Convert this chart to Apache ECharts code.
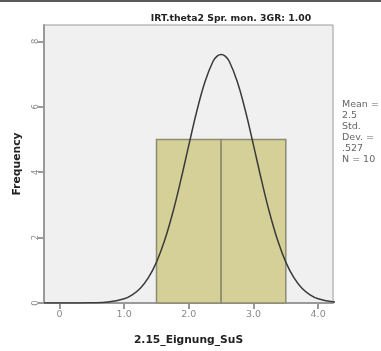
<!DOCTYPE html>
<html>
<head>
<meta charset="utf-8">
<script src="https://cdn.jsdelivr.net/npm/echarts@6/dist/echarts.min.js"></script>
<style>html,body{margin:0;padding:0;background:#fff;}#c{width:381px;height:351px;}</style>
</head>
<body>
<div id="c"></div>
<script>
// Histogram bins: [start, end, frequency]
var binStarts = [1.5, 2.5];
var binEnds = [2.5, 3.5];
var binFreq = [5, 5];
// Fitted normal curve points
var curveX = [-0.24, 0, 0.25, 0.5, 0.75, 1.0, 1.125, 1.25, 1.375, 1.5, 1.625, 1.75, 1.875, 2.0, 2.125, 2.25, 2.375, 2.4375, 2.5,
              2.5625, 2.625, 2.75, 2.875, 3.0, 3.125, 3.25, 3.375, 3.5, 3.625, 3.75, 3.875, 4.0, 4.25, 4.5, 4.75, 5.0, 5.24];
var curveY = [0, 0.0001, 0.0008, 0.006, 0.031, 0.132, 0.252, 0.454, 0.776, 1.251, 1.908, 2.75, 3.747, 4.827, 5.877, 6.765, 7.39, 7.55, 7.6,
              7.55, 7.39, 6.765, 5.877, 4.827, 3.747, 2.75, 1.908, 1.251, 0.776, 0.454, 0.252, 0.132, 0.031, 0.006, 0.0008, 0.0001, 0];
var xTicks = [0, 1, 2, 3, 4];
var xTickLabels = ['0', '1.0', '2.0', '3.0', '4.0'];
var yTicks = [0, 2, 4, 6, 8];
var statsLines = ['Mean =', '2.5', 'Std.', 'Dev. =', '.527', 'N = 10'];
var titleText = 'IRT.theta2 Spr. mon. 3GR: 1.00';
var xName = '2.15_Eignung_SuS';
var yName = 'Frequency';

var FONT = '"DejaVu Sans", Verdana, sans-serif';
var histData = binStarts.map(function (s, i) { return [s, binEnds[i], binFreq[i]]; });
var curveData = curveX.map(function (x, i) { return [x, curveY[i]]; });

var chart = echarts.init(document.getElementById('c'), null, {renderer: 'canvas'});
chart.setOption({
  animation: false,
  backgroundColor: '#fff',
  title: {
    text: titleText, left: 226, top: 9, textAlign: 'center',
    textStyle: {fontFamily: FONT, fontSize: 9.3, fontWeight: 'bold', color: '#222'}
  },
  graphic: [
    {type: 'rect', left: 0, top: 0, shape: {width: 381, height: 2}, style: {fill: '#5a5a5a'}, silent: true},
    {type: 'text', left: 342, top: 99, style: {
      text: statsLines.join('\n'), fill: '#666', font: '9.5px ' + FONT, lineHeight: 11
    }}
  ],
  grid: {left: 44, top: 25, right: 48, bottom: 47, show: true, backgroundColor: '#f0f0f0', borderColor: '#9a9a9a', borderWidth: 1},
  xAxis: {
    type: 'value', min: -0.24, max: 4.23,
    name: xName, nameLocation: 'middle', nameGap: 32,
    nameTextStyle: {fontFamily: FONT, fontSize: 10.7, fontWeight: 'bold', color: '#222'},
    axisLine: {show: true, onZero: false, lineStyle: {color: '#9a9a9a', width: 2}},
    axisTick: {show: true, length: 6, customValues: xTicks, lineStyle: {color: '#9a9a9a', width: 2}},
    axisLabel: {customValues: xTicks, margin: 7, fontFamily: FONT, fontSize: 9.5, color: '#8a8a8a',
      formatter: function (v) { var i = xTicks.indexOf(v); return i >= 0 ? xTickLabels[i] : ''; }},
    splitLine: {show: false}
  },
  yAxis: {
    type: 'value', min: 0, max: 8.5,
    name: yName, nameLocation: 'middle', nameGap: 19, nameRotate: 90,
    nameTextStyle: {fontFamily: FONT, fontSize: 10.8, fontWeight: 'bold', color: '#222'},
    axisLine: {show: true, onZero: false, lineStyle: {color: '#9a9a9a', width: 2}},
    axisTick: {show: true, length: 6, customValues: yTicks, lineStyle: {color: '#9a9a9a', width: 2}},
    axisLabel: {customValues: yTicks, rotate: 90, margin: 4, fontFamily: FONT, fontSize: 8.5, color: '#8a8a8a'},
    splitLine: {show: false}
  },
  series: [
    {
      type: 'custom',
      data: histData,
      encode: {x: [0, 1], y: 2},
      renderItem: function (params, api) {
        var p0 = api.coord([api.value(0), api.value(2)]);
        var p1 = api.coord([api.value(1), 0]);
        return {
          type: 'rect',
          shape: {x: p0[0], y: p0[1], width: p1[0] - p0[0], height: p1[1] - p0[1]},
          style: {fill: '#d4d098', stroke: '#8c8c70', lineWidth: 1.5}
        };
      },
      z: 2
    },
    {
      type: 'line', data: curveData, smooth: 0.4, showSymbol: false, clip: true,
      lineStyle: {color: '#3a3a3a', width: 1.5}, z: 3
    }
  ]
});
</script>
</body>
</html>
